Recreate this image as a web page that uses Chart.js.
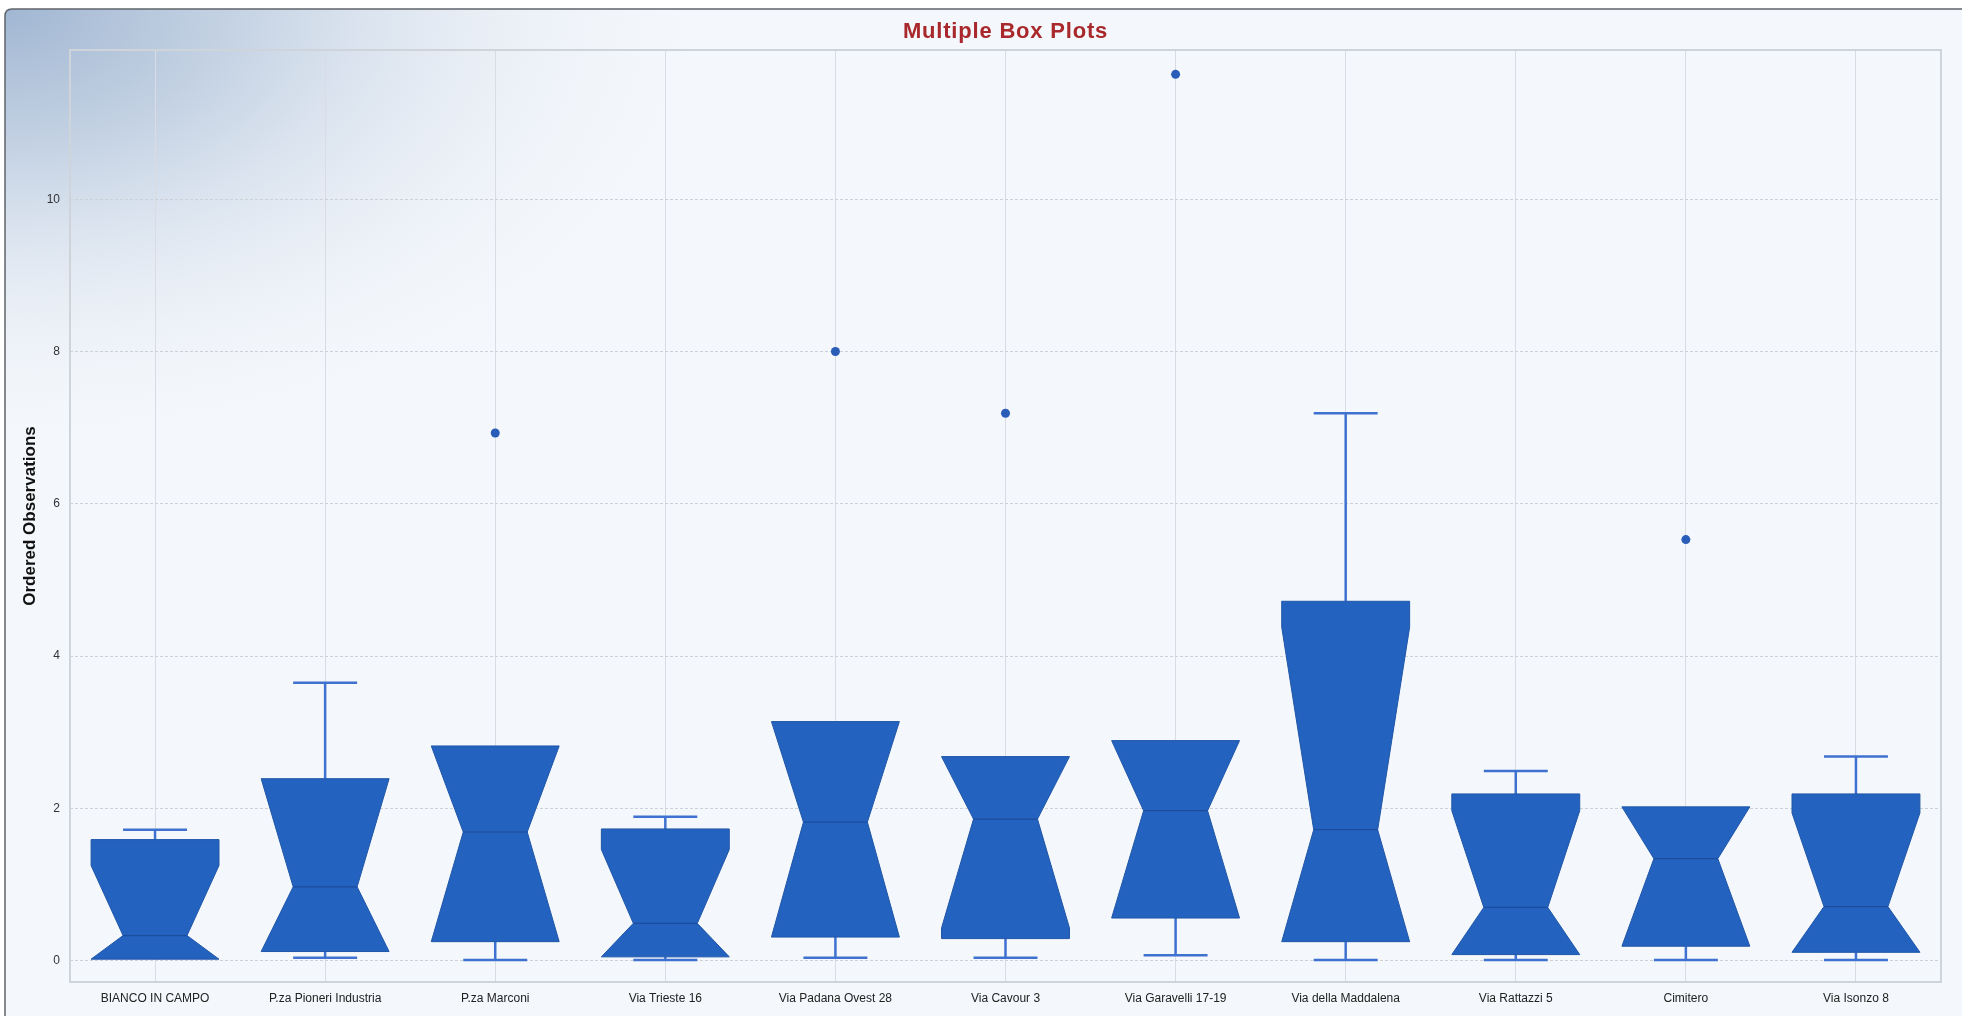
<!DOCTYPE html>
<html>
<head>
<meta charset="utf-8">
<title>Multiple Box Plots</title>
<script src="https://cdn.jsdelivr.net/npm/chart.js@4.4.1/dist/chart.umd.min.js"></script>
<style>
  html, body { margin: 0; padding: 0; background: #ffffff; overflow: hidden; }
  #wrap { width: 1962px; height: 1016px; position: relative; }
  canvas { display: block; }
</style>
</head>
<body>
<div id="wrap"><canvas id="chart" width="1962" height="1016"></canvas></div>
<script>
// Sampling sites
const categories = [
  'BIANCO IN CAMPO', 'P.za Pioneri Industria', 'P.za Marconi', 'Via Trieste 16',
  'Via Padana Ovest 28', 'Via Cavour 3', 'Via Garavelli 17-19', 'Via della Maddalena',
  'Via Rattazzi 5', 'Cimitero', 'Via Isonzo 8'
];

// Five-number summaries per site
const whiskerLow  = [0.02, 0.04, 0.01, 0.01, 0.04, 0.04, 0.07, 0.01, 0.01, 0.01, 0.01];
const quartile1   = [0.02, 0.12, 0.25, 0.05, 0.31, 0.29, 0.56, 0.25, 0.08, 0.19, 0.11];
const medians     = [0.33, 0.97, 1.69, 0.49, 1.82, 1.86, 1.97, 1.72, 0.70, 1.34, 0.71];
const quartile3   = [1.59, 2.39, 2.82, 1.73, 3.14, 2.68, 2.89, 4.72, 2.19, 2.02, 2.19];
const whiskerHigh = [1.72, 3.65, 2.82, 1.89, 3.14, 2.68, 2.89, 7.19, 2.49, 2.02, 2.68];

// Notch limits around the median (clipped to the box)
const notchLow  = [0.02, 0.12, 0.25, 0.05, 0.31, 0.43, 0.56, 0.25, 0.08, 0.19, 0.11];
const notchHigh = [1.25, 2.39, 2.82, 1.46, 3.14, 2.68, 2.89, 4.38, 1.97, 2.02, 1.94];

// Outliers (null where a site has none)
const outliers = [null, null, 6.93, null, 8.00, 7.19, 11.64, null, null, 5.53, null];

// Value axis
const yTicks = [0, 2, 4, 6, 8, 10];
const yMin = -0.28;
const yMax = 11.96;

const TITLE = 'Multiple Box Plots';
const BOX_FILL = '#2462bf';
const BOX_EDGE = '#1f56a8';
const WHISKER = '#3f72d0';
const NOTCH_RATIO = 0.5;   // notch waist relative to box width
const CAP_RATIO = 0.5;     // whisker cap relative to box width

// Panel background with the soft blue glow in the upper-left corner
const panelBackground = {
  id: 'panelBackground',
  beforeDraw(chart) {
    const ctx = chart.ctx;
    const W = chart.width, H = chart.height;
    ctx.save();
    ctx.fillStyle = '#ffffff';
    ctx.fillRect(0, 0, W, H);

    const x0 = 5, y0 = 9, r = 7;
    const path = new Path2D();
    path.moveTo(x0 + r, y0);
    path.lineTo(W + 20, y0);
    path.lineTo(W + 20, H + 20);
    path.lineTo(x0, H + 20);
    path.lineTo(x0, y0 + r);
    path.quadraticCurveTo(x0, y0, x0 + r, y0);

    ctx.fillStyle = '#f4f7fb';
    ctx.fill(path);

    ctx.save();
    ctx.clip(path);
    ctx.translate(x0, y0);
    ctx.scale(1, 0.62);
    const g = ctx.createRadialGradient(0, 0, 0, 0, 0, 720);
    g.addColorStop(0, 'rgba(160,182,210,1)');
    g.addColorStop(0.3, 'rgba(186,202,222,0.85)');
    g.addColorStop(0.6, 'rgba(214,224,237,0.55)');
    g.addColorStop(1, 'rgba(244,247,251,0)');
    ctx.fillStyle = g;
    ctx.fillRect(0, 0, 760, 760 / 0.62);
    ctx.restore();

    ctx.lineWidth = 1.5;
    ctx.strokeStyle = '#5f646b';
    ctx.stroke(path);
    ctx.restore();
  },
  afterDraw(chart) {
    // Title centred over the plot area
    const ctx = chart.ctx;
    const area = chart.chartArea;
    ctx.save();
    ctx.font = 'bold 22px "Liberation Sans", Arial, sans-serif';
    if ('letterSpacing' in ctx) ctx.letterSpacing = '0.8px';
    ctx.fillStyle = '#a8282c';
    ctx.textAlign = 'center';
    ctx.textBaseline = 'middle';
    ctx.fillText(TITLE, (area.left + area.right) / 2, 32);
    ctx.restore();
  }
};

// Notched boxes, whiskers and the plot frame
const notchedBoxes = {
  id: 'notchedBoxes',
  beforeDatasetsDraw(chart) {
    const ctx = chart.ctx;
    const area = chart.chartArea;
    const y = chart.scales.y;
    const meta = chart.getDatasetMeta(0);
    const py = v => y.getPixelForValue(v);

    ctx.save();
    ctx.strokeStyle = '#cfd4da';
    ctx.lineWidth = 2;
    ctx.strokeRect(area.left, area.top, area.right - area.left, area.bottom - area.top);

    ctx.beginPath();
    ctx.rect(area.left, area.top, area.right - area.left, area.bottom - area.top);
    ctx.clip();

    meta.data.forEach((bar, i) => {
      const cx = bar.x;
      const hw = bar.width / 2;
      const nw = hw * NOTCH_RATIO;
      const cw = hw * CAP_RATIO;

      ctx.strokeStyle = WHISKER;
      ctx.lineWidth = 2.5;
      ctx.lineCap = 'butt';
      if (whiskerHigh[i] > quartile3[i]) {
        ctx.beginPath();
        ctx.moveTo(cx, py(quartile3[i]));
        ctx.lineTo(cx, py(whiskerHigh[i]));
        ctx.moveTo(cx - cw, py(whiskerHigh[i]));
        ctx.lineTo(cx + cw, py(whiskerHigh[i]));
        ctx.stroke();
      }
      if (whiskerLow[i] < quartile1[i]) {
        ctx.beginPath();
        ctx.moveTo(cx, py(quartile1[i]));
        ctx.lineTo(cx, py(whiskerLow[i]));
        ctx.moveTo(cx - cw, py(whiskerLow[i]));
        ctx.lineTo(cx + cw, py(whiskerLow[i]));
        ctx.stroke();
      }

      const yq3 = py(quartile3[i]), yq1 = py(quartile1[i]);
      const ynh = py(notchHigh[i]), ynl = py(notchLow[i]), ym = py(medians[i]);
      ctx.beginPath();
      ctx.moveTo(cx - hw, yq3);
      ctx.lineTo(cx + hw, yq3);
      ctx.lineTo(cx + hw, ynh);
      ctx.lineTo(cx + nw, ym);
      ctx.lineTo(cx + hw, ynl);
      ctx.lineTo(cx + hw, yq1);
      ctx.lineTo(cx - hw, yq1);
      ctx.lineTo(cx - hw, ynl);
      ctx.lineTo(cx - nw, ym);
      ctx.lineTo(cx - hw, ynh);
      ctx.closePath();
      ctx.fillStyle = BOX_FILL;
      ctx.fill();
      ctx.lineWidth = 1;
      ctx.strokeStyle = BOX_EDGE;
      ctx.lineJoin = 'miter';
      ctx.stroke();

      ctx.beginPath();
      ctx.moveTo(cx - nw, ym);
      ctx.lineTo(cx + nw, ym);
      ctx.strokeStyle = '#1b4d9c';
      ctx.lineWidth = 1.2;
      ctx.stroke();
    });
    ctx.restore();
  }
};

const chart = new Chart(document.getElementById('chart'), {
  data: {
    labels: categories,
    datasets: [
      {
        type: 'bar',
        label: 'Box',
        data: categories.map((_, i) => [quartile1[i], quartile3[i]]),
        backgroundColor: 'rgba(0,0,0,0)',
        borderWidth: 0,
        barPercentage: 0.752,
        categoryPercentage: 1.0,
        order: 2
      },
      {
        type: 'line',
        label: 'Outliers',
        data: outliers,
        showLine: false,
        pointRadius: 4.5,
        pointHoverRadius: 4.5,
        pointBackgroundColor: '#2a5db8',
        pointBorderColor: '#2a5db8',
        pointBorderWidth: 0,
        spanGaps: false,
        order: 1
      }
    ]
  },
  options: {
    responsive: false,
    animation: false,
    devicePixelRatio: 1,
    layout: { padding: { left: 0, right: 21, top: 50, bottom: 0 } },
    plugins: {
      legend: { display: false },
      tooltip: { enabled: false },
      title: { display: false }
    },
    scales: {
      x: {
        type: 'category',
        offset: true,
        grid: { color: '#d9dde3', lineWidth: 1, offset: false, drawTicks: false },
        border: { display: false },
        ticks: {
          color: '#222222',
          font: { family: 'Liberation Sans, Arial, sans-serif', size: 12 },
          padding: 9,
          maxRotation: 0,
          autoSkip: false
        },
        afterFit(scale) { scale.height = 34; }
      },
      y: {
        type: 'linear',
        min: yMin,
        max: yMax,
        afterBuildTicks(scale) { scale.ticks = yTicks.map(v => ({ value: v })); },
        grid: { color: '#ccd1d8', lineWidth: 1, drawTicks: false },
        border: { display: false, dash: [3, 2] },
        ticks: {
          color: '#333333',
          font: { family: 'Liberation Sans, Arial, sans-serif', size: 12 },
          padding: 10,
          callback: v => String(v)
        },
        title: {
          display: true,
          text: 'Ordered Observations',
          color: '#111111',
          font: { family: 'Liberation Sans, Arial, sans-serif', size: 17, weight: 'bold', lineHeight: 1.2 },
          padding: { top: 20, bottom: 0 }
        },
        afterFit(scale) { scale.width = 70; }
      }
    }
  },
  plugins: [panelBackground, notchedBoxes]
});
</script>
</body>
</html>
